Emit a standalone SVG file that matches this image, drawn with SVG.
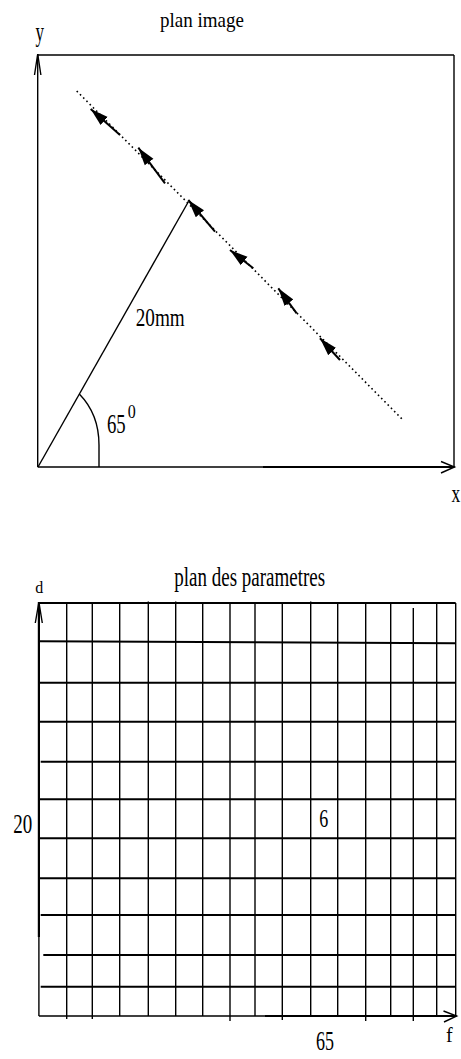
<svg xmlns="http://www.w3.org/2000/svg" width="461" height="1059" viewBox="0 0 461 1059">
<style>
  .ln { stroke: #000; fill: none; stroke-width: 1.4; }
  .thk { stroke: #000; fill: none; stroke-width: 2.2; }
  .dot { stroke: #000; fill: none; stroke-width: 1.6; stroke-dasharray: 1.6 3; }
  .shaft { stroke: #000; fill: none; stroke-width: 2; marker-end: url(#ah); }
  .g line { stroke: #000; stroke-width: 1.4; }
  .g .h { stroke-width: 1.9; }
  text { font-family: "Liberation Serif", "Times New Roman", serif; fill: #000; }
</style>
<defs>
  <marker id="ah" markerUnits="userSpaceOnUse" markerWidth="20" markerHeight="12" refX="18" refY="6" orient="auto" viewBox="0 0 20 12">
    <path d="M0,0.6 L18,6 L0,11.4 z" fill="#000"/>
  </marker>
</defs>
<rect width="461" height="1059" fill="#fff"/>

<!-- ===== plan image ===== -->
<g id="plan-image">
  <text transform="translate(160,27) scale(1,1.15)" font-size="19">plan image</text>
  <text transform="translate(35.5,41) scale(1,1.6)" font-size="17">y</text>
  <text transform="translate(451.5,502) scale(1,1.5)" font-size="17.5">x</text>
  <line class="ln" x1="37.7" y1="55" x2="454" y2="55"/>
  <line class="ln" x1="454" y1="55" x2="454" y2="467"/>
</g>

<g id="axes-image">
  <line class="ln" x1="37.7" y1="467" x2="37.7" y2="54"/>
  <polyline class="ln" points="34.5,75 37.7,54 40.9,75"/>
  <line class="ln" x1="37.7" y1="467" x2="263" y2="467"/>
  <line class="thk" x1="263" y1="467" x2="454.5" y2="467"/>
  <polyline class="ln" points="441,461.5 454.5,467 441,473"/>
</g>

<g id="radius">
  <line class="ln" x1="38" y1="467" x2="188.5" y2="201.5"/>
  <text transform="translate(135.7,325.7) scale(1,1.33)" font-size="19.2">20mm</text>
</g>

<g id="angle">
  <path class="ln" d="M79.3,394 C93,408 99,425 99,445 L99,467"/>
  <text transform="translate(107,433) scale(1,1.42)" font-size="18.7">65</text>
  <text transform="translate(127.7,418) scale(1,1.2)" font-size="16">0</text>
</g>

<g id="line">
  <line class="dot" x1="76.7" y1="91" x2="403" y2="420"/>
</g>

<g id="connectors">
  <line class="shaft" x1="120" y1="135" x2="90.7" y2="109"/>
  <line class="shaft" x1="165" y1="183.3" x2="138.3" y2="147.7"/>
  <line class="shaft" x1="215" y1="231.7" x2="188.3" y2="200"/>
  <line class="shaft" x1="253.3" y1="268.3" x2="230" y2="250"/>
  <line class="shaft" x1="296.7" y1="313.3" x2="278.3" y2="288.3"/>
  <line class="shaft" x1="340" y1="360" x2="320" y2="338.3"/>
</g>

<!-- ===== plan des parametres ===== -->
<g id="plan-parametres">
  <text transform="translate(174.3,586) scale(1,1.45)" font-size="19">plan des parametres</text>
  <text transform="translate(35.3,593.3) scale(1,1.07)" font-size="16">d</text>
  <text transform="translate(13.3,833.3) scale(1,1.42)" font-size="19">20</text>
  <text transform="translate(319.3,827.3) scale(1,1.42)" font-size="18">6</text>
  <text transform="translate(316,1050) scale(1,1.5)" font-size="18">65</text>
  <text transform="translate(446,1042)" font-size="20">f</text>
</g>

<g id="grid" class="g">
  <line x1="66.7" y1="603" x2="66.7" y2="1019"/>
  <line x1="92.3" y1="603" x2="92.3" y2="1019"/>
  <line x1="119.7" y1="602" x2="119.7" y2="1016"/>
  <line x1="148.3" y1="601.5" x2="148.3" y2="1016"/>
  <line x1="175.7" y1="601.5" x2="175.7" y2="1016"/>
  <line x1="202.7" y1="603" x2="202.7" y2="1016"/>
  <line x1="230" y1="603" x2="230" y2="1021"/>
  <line x1="255" y1="603" x2="255" y2="1016"/>
  <line x1="282.3" y1="603" x2="282.3" y2="1020"/>
  <line x1="310.7" y1="601.5" x2="310.7" y2="1016"/>
  <line x1="337.7" y1="603" x2="337.7" y2="1016"/>
  <line x1="365.7" y1="603" x2="365.7" y2="1021"/>
  <line x1="390.7" y1="603" x2="390.7" y2="1016"/>
  <line x1="413.3" y1="608" x2="413.3" y2="1021"/>
  <line x1="436.7" y1="603" x2="436.7" y2="1016"/>
  <line x1="455.7" y1="603" x2="455.7" y2="1016"/>

  <line class="h" x1="39" y1="603" x2="455.7" y2="603"/>
  <line class="h" x1="39.5" y1="641.2" x2="455.7" y2="643.3"/>
  <line class="h" x1="39.5" y1="682.7" x2="455.7" y2="682.7"/>
  <line class="h" x1="39.5" y1="721.7" x2="455.7" y2="721.7"/>
  <line class="h" x1="40.7" y1="761.7" x2="455.7" y2="761.7"/>
  <line class="h" x1="39.5" y1="799.3" x2="455.7" y2="799.3"/>
  <line class="h" x1="39.5" y1="838.3" x2="455.7" y2="838.3"/>
  <line class="h" x1="39.5" y1="878.3" x2="455.7" y2="878.3"/>
  <line class="h" x1="40.7" y1="915" x2="455.7" y2="915"/>
  <line class="h" x1="43.3" y1="955" x2="455.7" y2="955"/>
  <line class="h" x1="40.7" y1="986.7" x2="455.7" y2="986.7"/>
</g>

<g id="axes-parametres">
  <line class="thk" x1="38.9" y1="937" x2="38.9" y2="602"/>
  <line class="ln" x1="38.9" y1="1016" x2="38.9" y2="937"/>
  <polyline class="ln" points="35.3,623 38.9,602 42.3,623"/>
  <line class="ln" x1="38.9" y1="1016" x2="265" y2="1016"/>
  <line class="thk" x1="265" y1="1016" x2="456.5" y2="1016"/>
  <polyline class="ln" points="443.5,1011 456.7,1016 444,1022"/>
</g>
</svg>
